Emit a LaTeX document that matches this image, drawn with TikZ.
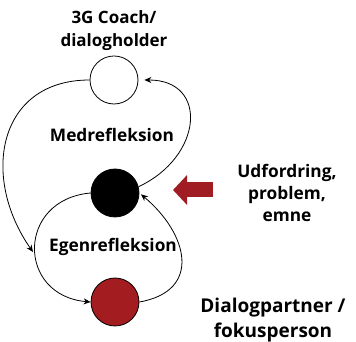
\documentclass[tikz,border=0pt]{standalone}
\usepackage{fontspec}
\setmainfont{Open Sans}
\usetikzlibrary{arrows.meta}
\definecolor{focusred}{RGB}{162, 28, 32}
\definecolor{pushred}{RGB}{160, 30, 35}

\begin{document}
\begin{tikzpicture}[x=1pt, y=1pt,
  person/.style={circle, draw=black, line width=0.8pt, minimum size=48pt, inner sep=0pt},
  looptext/.style={font=\bfseries\fontsize{17.3}{20}\selectfont},
  headtext/.style={align=center, font=\bfseries\fontsize{17}{23}\selectfont},
  sidetext/.style={align=center, font=\bfseries\fontsize{17.3}{22}\selectfont},
  roletext/.style={align=center, font=\bfseries\fontsize{19}{25}\selectfont},
  flow/.style={-{Stealth[length=7pt, width=6pt]}, line width=0.8pt}]
\useasboundingbox (0,0) rectangle (356,342);
\node[person, fill=white] (coach) at (114,262) {};
\node[person, fill=black] (issue) at (115,149) {};
\node[person, fill=focusred] (partner) at (115,40) {};
\node[headtext] (coachname) at (114,311) {3G Coach/\\dialogholder};
\node[looptext] (med) at (112,207) {Medrefleksion};
\node[looptext] (egen) at (113,95) {Egenrefleksion};
\node[sidetext] (issuename) at (287,149) {Udfordring,\\problem,\\emne};
\node[roletext] (partnername) at (273,22) {Dialogpartner /\\fokusperson};
\coordinate (egenleft) at (33,90);
\coordinate (pushtail) at (213,152);
\coordinate (pushtip) at (173,152);
\draw[flow] (coach.west) to[out=180, in=125, looseness=1.3] (egenleft);
\draw[flow, shorten >=6pt] (issue.15) to[out=25, in=0, looseness=1.7] (coach.east);
\draw[flow] (issue.west) to[out=185, in=175, looseness=1.75] (partner.west);
\draw[flow, shorten >=2pt] (partner.east) to[out=10, in=-40, looseness=1.5] (issue.east);
\draw[pushred, line width=15pt, -{Triangle[length=14pt, width=29pt]}] (pushtail) -- (pushtip);
\end{tikzpicture}
\end{document}
